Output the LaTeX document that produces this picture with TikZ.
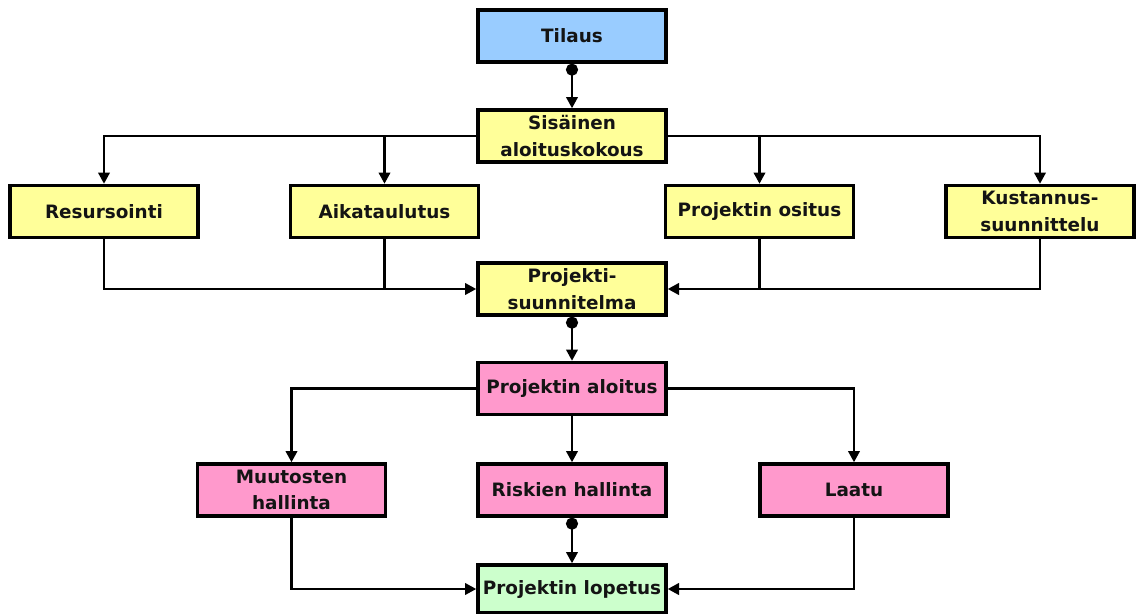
\documentclass[tikz,border=0pt]{standalone}
\usepackage{fontspec}
\setmainfont{DejaVu Sans}
\usetikzlibrary{arrows.meta}
\tikzset{
  x=0.75pt, y=-0.75pt,
  box/.style={draw=black, line width=2.5pt, minimum width=141pt, minimum height=39pt,
    inner sep=0.5pt, align=center, font=\bfseries\fontsize{13.8}{20}\selectfont, text=black!92},
  blue box/.style={box, fill={rgb,255:red,153;green,204;blue,255}},
  yellow box/.style={box, fill={rgb,255:red,255;green,255;blue,153}},
  pink box/.style={box, fill={rgb,255:red,255;green,153;blue,204}},
  green box/.style={box, fill={rgb,255:red,204;green,255;blue,204}},
  link/.style={line width=2.2pt, -{Triangle[length=8.5pt,width=8.5pt]}},
  plain/.style={line width=2.2pt},
  dotlink/.style={line width=2.2pt, {Circle[length=9pt]}-{Triangle[length=8.5pt,width=8.5pt]}},
}
\begin{document}
\begin{tikzpicture}
\useasboundingbox (0,0) rectangle (1136,614);
\fill[white] (0,0) rectangle (1136,614);

% planning phase
\node[blue box]   (tilaus)   at (572,36)    {Tilaus};
\node[yellow box] (sisainen) at (572,136)   {Sisäinen\\aloituskokous};
\node[yellow box] (resurs)   at (104,211.5) {Resursointi};
\node[yellow box] (aika)     at (384.5,211.5) {Aikataulutus};
\node[yellow box] (ositus)   at (759.5,211.5) {Projektin ositus};
\node[yellow box] (kust)     at (1040,211.5) {Kustannus-\\suunnittelu};
\node[yellow box] (suunn)    at (572,289)   {Projekti-\\suunnitelma};

% execution phase
\node[pink box]   (aloitus)  at (572,388.5) {Projektin aloitus};
\node[pink box]   (muut)     at (291.5,490) {Muutosten\\hallinta};
\node[pink box]   (riski)    at (572,490)   {Riskien hallinta};
\node[pink box]   (laatu)    at (854,490)   {Laatu};
\node[green box, minimum height=36pt] (lopetus) at (572,589) {Projektin lopetus};

% order to kick-off
\draw[dotlink] (tilaus.south) -- (sisainen.north);

% kick-off fans out to the planning tasks
\draw[link] (sisainen.west) -| (resurs.north);
\draw[link] (sisainen.west -| aika.north) -- (aika.north);
\draw[link] (sisainen.east) -| (kust.north);
\draw[link] (sisainen.east -| ositus.north) -- (ositus.north);

% planning tasks merge into the project plan
\draw[link] (resurs.south) |- (suunn.west);
\draw[plain] (aika.south) -- (aika.south |- suunn.west);
\draw[link] (kust.south) |- (suunn.east);
\draw[plain] (ositus.south) -- (ositus.south |- suunn.east);

% plan to project start
\draw[dotlink] (suunn.south) -- (aloitus.north);

% start fans out to the management tasks
\draw[link] (aloitus.west) -| (muut.north);
\draw[link] (aloitus.south) -- (riski.north);
\draw[link] (aloitus.east) -| (laatu.north);

% management tasks merge into project closure
\draw[link] (muut.south) |- (lopetus.west);
\draw[dotlink] (riski.south) -- (lopetus.north);
\draw[link] (laatu.south) |- (lopetus.east);
\end{tikzpicture}
\end{document}
